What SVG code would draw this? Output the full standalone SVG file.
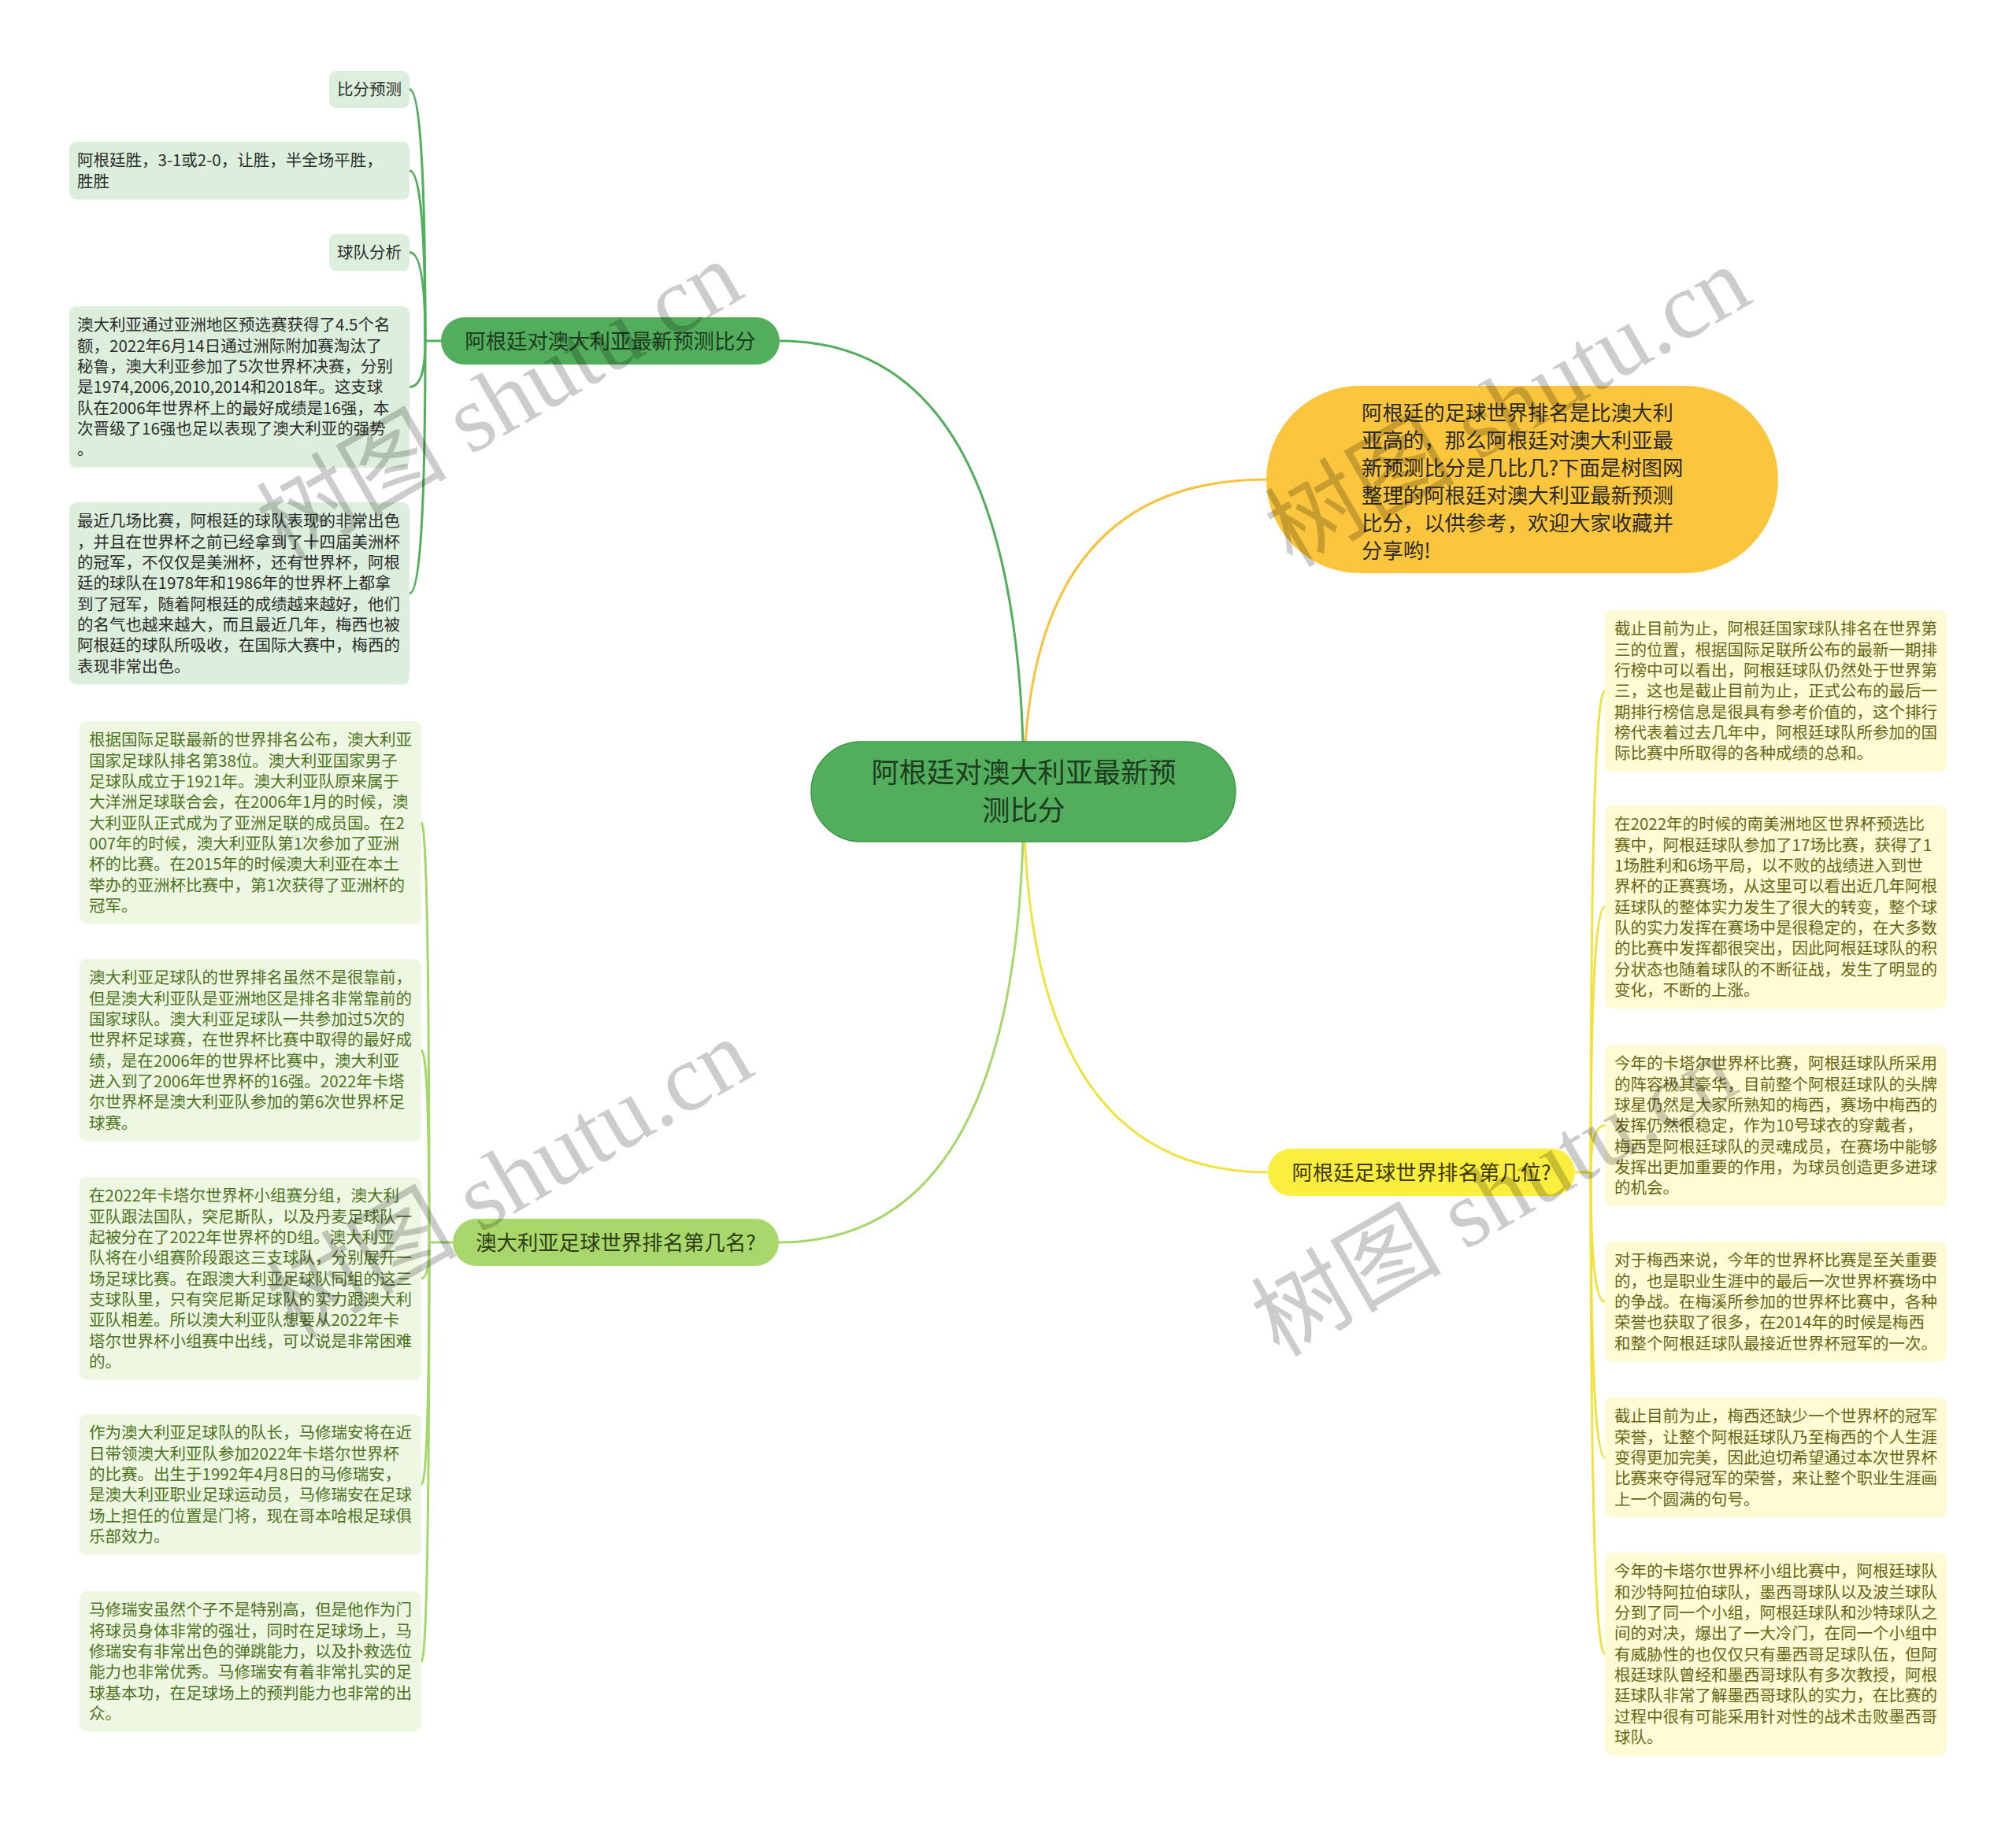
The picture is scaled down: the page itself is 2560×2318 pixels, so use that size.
<svg xmlns="http://www.w3.org/2000/svg" width="2560" height="2318" viewBox="0 0 2560 2318">
<style>
text{font-family:"Noto Sans CJK SC","Noto Sans",sans-serif}
.lf{font-size:20.5px}
.n1{fill:#dcefdc}.t1{fill:#2d2d2d}
.n2{fill:#eef7e1}.t2{fill:#4d7321}
.n3{fill:#fffbd4}.t3{fill:#666616}
.br{font-size:26.4px;text-anchor:middle}
.c1{fill:none;stroke:#52ae5c;stroke-width:3}
.c2{fill:none;stroke:#a5d86a;stroke-width:3}
.c3{fill:none;stroke:#f0e240;stroke-width:3}
.c4{fill:none;stroke:#f6c23f;stroke-width:3}
.wm{font-family:"Liberation Serif","Noto Sans CJK SC",serif;font-size:121px;fill:#000;fill-opacity:.2;text-anchor:middle}
</style>
<rect width="2560" height="2318" fill="#ffffff"/>
<g id="connectors">
<path class="c4" d="M1300 1006 Q1300 609 1608 609"/>
<path class="c1" d="M1300 1006 Q1300 433 990 433"/>
<path class="c3" d="M1300 1006 Q1300 1489 1610 1489"/>
<path class="c2" d="M1300 1006 Q1300 1578 989 1578"/>
<path class="c1" d="M560 433 L540 433"/>
<path class="c1" d="M540 433 Q540 113.6 520 113.6"/>
<path class="c1" d="M540 433 Q540 216.8 520 216.8"/>
<path class="c1" d="M540 433 Q540 320.6 520 320.6"/>
<path class="c1" d="M540 433 Q540 491.5 520 491.5"/>
<path class="c1" d="M540 433 Q540 753.7 520 753.7"/>
<path class="c2" d="M575 1578 L545 1578"/>
<path class="c2" d="M545 1578 Q545 1044.8 535 1044.8"/>
<path class="c2" d="M545 1578 Q545 1333.7 535 1333.7"/>
<path class="c2" d="M545 1578 Q545 1623.8 535 1623.8"/>
<path class="c2" d="M545 1578 Q545 1885.4 535 1885.4"/>
<path class="c2" d="M545 1578 Q545 2110.4 535 2110.4"/>
<path class="c3" d="M2000 1489 L2020 1489"/>
<path class="c3" d="M2020 1489 Q2020 877.5 2038 877.5"/>
<path class="c3" d="M2020 1489 Q2020 1151.8 2038 1151.8"/>
<path class="c3" d="M2020 1489 Q2020 1429.5 2038 1429.5"/>
<path class="c3" d="M2020 1489 Q2020 1653.2 2038 1653.2"/>
<path class="c3" d="M2020 1489 Q2020 1851.2 2038 1851.2"/>
<path class="c3" d="M2020 1489 Q2020 2100.8 2038 2100.8"/>
</g>
<g id="root">
<rect x="1030" y="942" width="539" height="127" rx="63.5" fill="#52ae5c" stroke="#3e9a48" stroke-width="1.5"/>
<text style="font-size:35.2px;text-anchor:middle;fill:#1c3b1f"><tspan x="1300" y="994.4">阿根廷对澳大利亚最新预</tspan><tspan x="1300" y="1042.4">测比分</tspan></text>
</g>
<g id="intro">
<rect x="1608" y="490" width="650" height="238" rx="119" fill="#fbc53d"/>
<text style="font-size:26.4px;fill:#2b2b2b"><tspan x="1729" y="534">阿根廷的足球世界排名是比澳大利</tspan><tspan x="1729" y="569">亚高的，那么阿根廷对澳大利亚最</tspan><tspan x="1729" y="604">新预测比分是几比几?下面是树图网</tspan><tspan x="1729" y="639">整理的阿根廷对澳大利亚最新预测</tspan><tspan x="1729" y="674">比分，以供参考，欢迎大家收藏并</tspan><tspan x="1729" y="709">分享哟!</tspan></text>
</g>
<g id="branch1">
<rect x="560" y="403" width="430" height="60" rx="30" fill="#52ae5c"/>
<text class="br" x="775" y="443" fill="#1c3b1f">阿根廷对澳大利亚最新预测比分</text>
</g>
<g id="branch2">
<rect x="575" y="1548" width="414" height="60" rx="30" fill="#a8d86c"/>
<text class="br" x="782" y="1588" fill="#2e3b12">澳大利亚足球世界排名第几名?</text>
</g>
<g id="branch3">
<rect x="1610" y="1459" width="390" height="60" rx="30" fill="#fcee3e"/>
<text class="br" x="1805" y="1499" fill="#3d3a06">阿根廷足球世界排名第几位?</text>
</g>
<g id="tl1"><rect class="n1" x="418" y="90" width="102" height="47.3" rx="9"/><text class="lf t1"><tspan x="428" y="121.4">比分预测</tspan></text></g>
<g id="tl2"><rect class="n1" x="88" y="180" width="432" height="73.6" rx="9"/><text class="lf t1"><tspan x="98" y="211.4">阿根廷胜，3-1或2-0，让胜，半全场平胜，</tspan><tspan x="98" y="237.7">胜胜</tspan></text></g>
<g id="tl3"><rect class="n1" x="418" y="297" width="102" height="47.3" rx="9"/><text class="lf t1"><tspan x="428" y="328.4">球队分析</tspan></text></g>
<g id="tl4"><rect class="n1" x="88" y="389" width="432" height="205.1" rx="9"/><text class="lf t1"><tspan x="98" y="420.4">澳大利亚通过亚洲地区预选赛获得了4.5个名</tspan><tspan x="98" y="446.7">额，2022年6月14日通过洲际附加赛淘汰了</tspan><tspan x="98" y="473">秘鲁，澳大利亚参加了5次世界杯决赛，分别</tspan><tspan x="98" y="499.3">是1974,2006,2010,2014和2018年。这支球</tspan><tspan x="98" y="525.6">队在2006年世界杯上的最好成绩是16强，本</tspan><tspan x="98" y="551.9">次晋级了16强也足以表现了澳大利亚的强势</tspan><tspan x="98" y="578.2">。</tspan></text></g>
<g id="tl5"><rect class="n1" x="88" y="638" width="432" height="231.4" rx="9"/><text class="lf t1"><tspan x="98" y="669.4">最近几场比赛，阿根廷的球队表现的非常出色</tspan><tspan x="98" y="695.7">，并且在世界杯之前已经拿到了十四届美洲杯</tspan><tspan x="98" y="722">的冠军，不仅仅是美洲杯，还有世界杯，阿根</tspan><tspan x="98" y="748.3">廷的球队在1978年和1986年的世界杯上都拿</tspan><tspan x="98" y="774.6">到了冠军，随着阿根廷的成绩越来越好，他们</tspan><tspan x="98" y="800.9">的名气也越来越大，而且最近几年，梅西也被</tspan><tspan x="98" y="827.2">阿根廷的球队所吸收，在国际大赛中，梅西的</tspan><tspan x="98" y="853.5">表现非常出色。</tspan></text></g>
<g id="ll1"><rect class="n2" x="101" y="916" width="434" height="257.7" rx="9"/><text class="lf t2"><tspan x="113" y="947.4">根据国际足联最新的世界排名公布，澳大利亚</tspan><tspan x="113" y="973.7">国家足球队排名第38位。澳大利亚国家男子</tspan><tspan x="113" y="1000">足球队成立于1921年。澳大利亚队原来属于</tspan><tspan x="113" y="1026.3">大洋洲足球联合会，在2006年1月的时候，澳</tspan><tspan x="113" y="1052.6">大利亚队正式成为了亚洲足联的成员国。在2</tspan><tspan x="113" y="1078.9">007年的时候，澳大利亚队第1次参加了亚洲</tspan><tspan x="113" y="1105.2">杯的比赛。在2015年的时候澳大利亚在本土</tspan><tspan x="113" y="1131.5">举办的亚洲杯比赛中，第1次获得了亚洲杯的</tspan><tspan x="113" y="1157.8">冠军。</tspan></text></g>
<g id="ll2"><rect class="n2" x="101" y="1218" width="434" height="231.4" rx="9"/><text class="lf t2"><tspan x="113" y="1249.4">澳大利亚足球队的世界排名虽然不是很靠前，</tspan><tspan x="113" y="1275.7">但是澳大利亚队是亚洲地区是排名非常靠前的</tspan><tspan x="113" y="1302">国家球队。澳大利亚足球队一共参加过5次的</tspan><tspan x="113" y="1328.3">世界杯足球赛，在世界杯比赛中取得的最好成</tspan><tspan x="113" y="1354.6">绩，是在2006年的世界杯比赛中，澳大利亚</tspan><tspan x="113" y="1380.9">进入到了2006年世界杯的16强。2022年卡塔</tspan><tspan x="113" y="1407.2">尔世界杯是澳大利亚队参加的第6次世界杯足</tspan><tspan x="113" y="1433.5">球赛。</tspan></text></g>
<g id="ll3"><rect class="n2" x="101" y="1495" width="434" height="257.7" rx="9"/><text class="lf t2"><tspan x="113" y="1526.4">在2022年卡塔尔世界杯小组赛分组，澳大利</tspan><tspan x="113" y="1552.7">亚队跟法国队，突尼斯队，以及丹麦足球队一</tspan><tspan x="113" y="1579">起被分在了2022年世界杯的D组。澳大利亚</tspan><tspan x="113" y="1605.3">队将在小组赛阶段跟这三支球队，分别展开一</tspan><tspan x="113" y="1631.6">场足球比赛。在跟澳大利亚足球队同组的这三</tspan><tspan x="113" y="1657.9">支球队里，只有突尼斯足球队的实力跟澳大利</tspan><tspan x="113" y="1684.2">亚队相差。所以澳大利亚队想要从2022年卡</tspan><tspan x="113" y="1710.5">塔尔世界杯小组赛中出线，可以说是非常困难</tspan><tspan x="113" y="1736.8">的。</tspan></text></g>
<g id="ll4"><rect class="n2" x="101" y="1796" width="434" height="178.8" rx="9"/><text class="lf t2"><tspan x="113" y="1827.4">作为澳大利亚足球队的队长，马修瑞安将在近</tspan><tspan x="113" y="1853.7">日带领澳大利亚队参加2022年卡塔尔世界杯</tspan><tspan x="113" y="1880">的比赛。出生于1992年4月8日的马修瑞安，</tspan><tspan x="113" y="1906.3">是澳大利亚职业足球运动员，马修瑞安在足球</tspan><tspan x="113" y="1932.6">场上担任的位置是门将，现在哥本哈根足球俱</tspan><tspan x="113" y="1958.9">乐部效力。</tspan></text></g>
<g id="ll5"><rect class="n2" x="101" y="2021" width="434" height="178.8" rx="9"/><text class="lf t2"><tspan x="113" y="2052.4">马修瑞安虽然个子不是特别高，但是他作为门</tspan><tspan x="113" y="2078.7">将球员身体非常的强壮，同时在足球场上，马</tspan><tspan x="113" y="2105">修瑞安有非常出色的弹跳能力，以及扑救选位</tspan><tspan x="113" y="2131.3">能力也非常优秀。马修瑞安有着非常扎实的足</tspan><tspan x="113" y="2157.6">球基本功，在足球场上的预判能力也非常的出</tspan><tspan x="113" y="2183.9">众。</tspan></text></g>
<g id="r1"><rect class="n3" x="2038" y="775" width="434" height="205.1" rx="9"/><text class="lf t3"><tspan x="2050" y="806.4">截止目前为止，阿根廷国家球队排名在世界第</tspan><tspan x="2050" y="832.7">三的位置，根据国际足联所公布的最新一期排</tspan><tspan x="2050" y="859">行榜中可以看出，阿根廷球队仍然处于世界第</tspan><tspan x="2050" y="885.3">三，这也是截止目前为止，正式公布的最后一</tspan><tspan x="2050" y="911.6">期排行榜信息是很具有参考价值的，这个排行</tspan><tspan x="2050" y="937.9">榜代表着过去几年中，阿根廷球队所参加的国</tspan><tspan x="2050" y="964.2">际比赛中所取得的各种成绩的总和。</tspan></text></g>
<g id="r2"><rect class="n3" x="2038" y="1023" width="434" height="257.7" rx="9"/><text class="lf t3"><tspan x="2050" y="1054.4">在2022年的时候的南美洲地区世界杯预选比</tspan><tspan x="2050" y="1080.7">赛中，阿根廷球队参加了17场比赛，获得了1</tspan><tspan x="2050" y="1107">1场胜利和6场平局，以不败的战绩进入到世</tspan><tspan x="2050" y="1133.3">界杯的正赛赛场，从这里可以看出近几年阿根</tspan><tspan x="2050" y="1159.6">廷球队的整体实力发生了很大的转变，整个球</tspan><tspan x="2050" y="1185.9">队的实力发挥在赛场中是很稳定的，在大多数</tspan><tspan x="2050" y="1212.2">的比赛中发挥都很突出，因此阿根廷球队的积</tspan><tspan x="2050" y="1238.5">分状态也随着球队的不断征战，发生了明显的</tspan><tspan x="2050" y="1264.8">变化，不断的上涨。</tspan></text></g>
<g id="r3"><rect class="n3" x="2038" y="1327" width="434" height="205.1" rx="9"/><text class="lf t3"><tspan x="2050" y="1358.4">今年的卡塔尔世界杯比赛，阿根廷球队所采用</tspan><tspan x="2050" y="1384.7">的阵容极其豪华，目前整个阿根廷球队的头牌</tspan><tspan x="2050" y="1411">球星仍然是大家所熟知的梅西，赛场中梅西的</tspan><tspan x="2050" y="1437.3">发挥仍然很稳定，作为10号球衣的穿戴者，</tspan><tspan x="2050" y="1463.6">梅西是阿根廷球队的灵魂成员，在赛场中能够</tspan><tspan x="2050" y="1489.9">发挥出更加重要的作用，为球员创造更多进球</tspan><tspan x="2050" y="1516.2">的机会。</tspan></text></g>
<g id="r4"><rect class="n3" x="2038" y="1577" width="434" height="152.5" rx="9"/><text class="lf t3"><tspan x="2050" y="1608.4">对于梅西来说，今年的世界杯比赛是至关重要</tspan><tspan x="2050" y="1634.7">的，也是职业生涯中的最后一次世界杯赛场中</tspan><tspan x="2050" y="1661">的争战。在梅溪所参加的世界杯比赛中，各种</tspan><tspan x="2050" y="1687.3">荣誉也获取了很多，在2014年的时候是梅西</tspan><tspan x="2050" y="1713.6">和整个阿根廷球队最接近世界杯冠军的一次。</tspan></text></g>
<g id="r5"><rect class="n3" x="2038" y="1775" width="434" height="152.5" rx="9"/><text class="lf t3"><tspan x="2050" y="1806.4">截止目前为止，梅西还缺少一个世界杯的冠军</tspan><tspan x="2050" y="1832.7">荣誉，让整个阿根廷球队乃至梅西的个人生涯</tspan><tspan x="2050" y="1859">变得更加完美，因此迫切希望通过本次世界杯</tspan><tspan x="2050" y="1885.3">比赛来夺得冠军的荣誉，来让整个职业生涯画</tspan><tspan x="2050" y="1911.6">上一个圆满的句号。</tspan></text></g>
<g id="r6"><rect class="n3" x="2038" y="1972" width="434" height="257.7" rx="9"/><text class="lf t3"><tspan x="2050" y="2003.4">今年的卡塔尔世界杯小组比赛中，阿根廷球队</tspan><tspan x="2050" y="2029.7">和沙特阿拉伯球队，墨西哥球队以及波兰球队</tspan><tspan x="2050" y="2056">分到了同一个小组，阿根廷球队和沙特球队之</tspan><tspan x="2050" y="2082.3">间的对决，爆出了一大冷门，在同一个小组中</tspan><tspan x="2050" y="2108.6">有威胁性的也仅仅只有墨西哥足球队伍，但阿</tspan><tspan x="2050" y="2134.9">根廷球队曾经和墨西哥球队有多次教授，阿根</tspan><tspan x="2050" y="2161.2">廷球队非常了解墨西哥球队的实力，在比赛的</tspan><tspan x="2050" y="2187.5">过程中很有可能采用针对性的战术击败墨西哥</tspan><tspan x="2050" y="2213.8">球队。</tspan></text></g>
<g id="watermark">
<text class="wm" transform="translate(655 545) rotate(-30)">树图 shutu.cn</text>
<text class="wm" transform="translate(1935 552) rotate(-30)">树图 shutu.cn</text>
<text class="wm" transform="translate(668 1533) rotate(-30)">树图 shutu.cn</text>
<text class="wm" transform="translate(1918 1555) rotate(-30)">树图 shutu.cn</text>
</g>
</svg>
